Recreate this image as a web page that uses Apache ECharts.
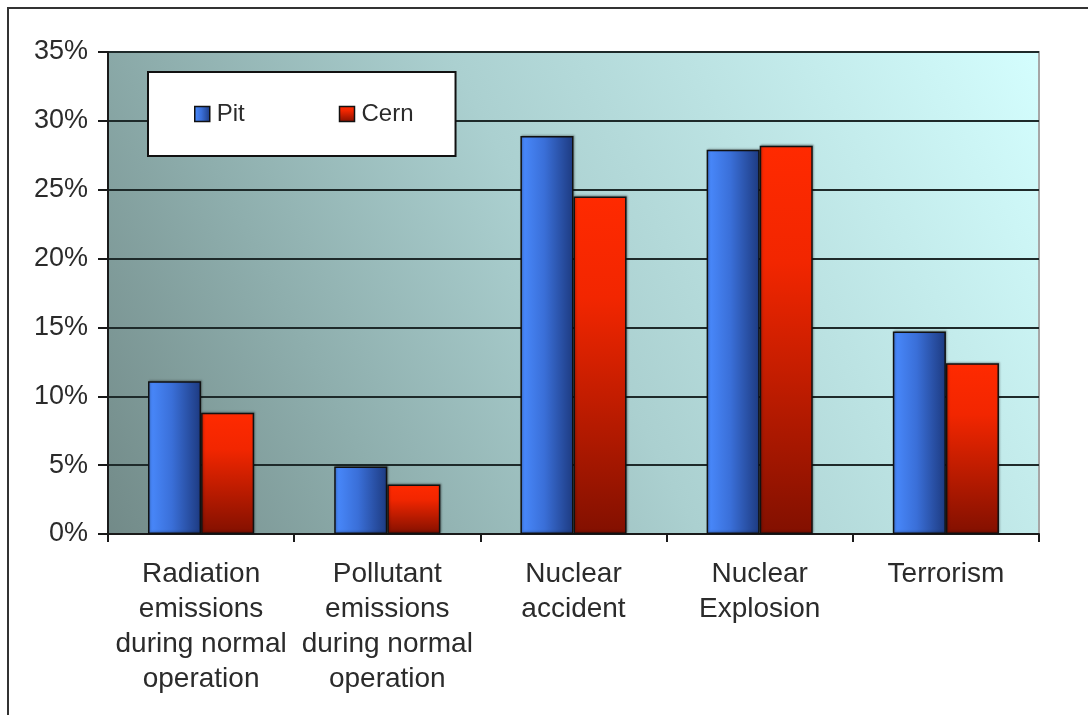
<!DOCTYPE html>
<html>
<head>
<meta charset="utf-8">
<script src="https://cdn.jsdelivr.net/npm/echarts@6/dist/echarts.min.js"></script>
<style>
  html, body { margin: 0; padding: 0; background: #ffffff; }
  #chart { width: 1088px; height: 715px; }
</style>
</head>
<body>
<div id="chart"></div>
<script>
// Perceived risk categories and share of respondents (%)
const categories = [
  'Radiation\nemissions\nduring normal\noperation',
  'Pollutant\nemissions\nduring normal\noperation',
  'Nuclear\naccident',
  'Nuclear\nExplosion',
  'Terrorism'
];
const pitValues  = [11.1, 4.9, 28.9, 27.9, 14.7];
const cernValues = [8.8, 3.6, 24.5, 28.2, 12.4];
const yTicks = { min: 0, max: 35, interval: 5 };

const FONT = "'Liberation Sans', Arial, sans-serif";
const TEXT = '#2b2b2b';

const pitFill = {
  type: 'linear', x: 0, y: 0, x2: 1, y2: 0,
  colorStops: [
    { offset: 0, color: '#4a8bff' },
    { offset: 0.45, color: '#3a6fd8' },
    { offset: 1, color: '#1d3a80' }
  ]
};
const cernFill = {
  type: 'linear', x: 0, y: 0, x2: 0, y2: 1,
  colorStops: [
    { offset: 0, color: '#ff2a00' },
    { offset: 0.3, color: '#f22600' },
    { offset: 1, color: '#821000' }
  ]
};
// plot background: dark slate in the lower left fading to pale cyan upper right
const plotFill = {
  type: 'linear', x: 0, y: 1, x2: 1, y2: 0,
  colorStops: [
    { offset: 0, color: '#728a88' },
    { offset: 0.25, color: '#8eaead' },
    { offset: 0.5, color: '#abd0d0' },
    { offset: 1, color: '#d4fefe' }
  ]
};

const chart = echarts.init(document.getElementById('chart'), null, { renderer: 'canvas' });

chart.setOption({
  animation: false,
  backgroundColor: '#ffffff',
  textStyle: { fontFamily: FONT },
  graphic: [{
    type: 'rect',
    shape: { x: 8, y: 8, width: 1100, height: 740 },
    style: { fill: 'none', stroke: '#333333', lineWidth: 2 },
    z: 100
  }],
  grid: {
    left: 108, top: 52, right: 49, bottom: 181,
    show: true,
    backgroundColor: plotFill,
    borderColor: '#a6a6a6',
    borderWidth: 2
  },
  legend: {
    left: 148, top: 72,
    orient: 'horizontal',
    backgroundColor: '#ffffff',
    borderColor: '#111111',
    borderWidth: 2,
    borderRadius: 0,
    padding: [30, 42, 30, 46],
    itemGap: 94,
    itemWidth: 15,
    itemHeight: 15,
    icon: 'rect',
    textStyle: { fontSize: 24, color: TEXT, fontFamily: FONT, padding: [0, 0, 0, 2] },
    data: [
      { name: 'Pit', itemStyle: { color: pitFill, borderColor: '#111', borderWidth: 1.5 } },
      { name: 'Cern', itemStyle: { color: cernFill, borderColor: '#111', borderWidth: 1.5 } }
    ]
  },
  xAxis: {
    type: 'category',
    data: categories,
    axisLine: { lineStyle: { color: '#1a1a1a', width: 2 } },
    axisTick: { show: true, length: 8, inside: false, lineStyle: { color: '#1a1a1a', width: 2 } },
    axisLabel: {
      interval: 0,
      margin: 23,
      fontSize: 28,
      lineHeight: 35,
      color: TEXT,
      fontFamily: FONT,
      align: 'center'
    }
  },
  yAxis: {
    type: 'value',
    min: yTicks.min, max: yTicks.max, interval: yTicks.interval,
    axisLine: { show: true, lineStyle: { color: '#1a1a1a', width: 2 } },
    axisTick: { show: true, length: 10, lineStyle: { color: '#1a1a1a', width: 2 } },
    axisLabel: {
      formatter: '{value}%',
      fontSize: 27,
      margin: 20,
      color: TEXT,
      fontFamily: FONT
    },
    splitLine: { lineStyle: { color: '#1e2a2a', width: 2 } }
  },
  series: [
    {
      name: 'Pit', type: 'bar', data: pitValues,
      barGap: '0%', barCategoryGap: '43%',
      itemStyle: {
        color: pitFill, borderColor: '#111111', borderWidth: 1.5,
        shadowColor: 'rgba(0,0,0,0.25)', shadowOffsetX: 1, shadowOffsetY: -1, shadowBlur: 2
      }
    },
    {
      name: 'Cern', type: 'bar', data: cernValues,
      barGap: '0%', barCategoryGap: '43%',
      itemStyle: {
        color: cernFill, borderColor: '#111111', borderWidth: 1.5,
        shadowColor: 'rgba(0,0,0,0.25)', shadowOffsetX: 1, shadowOffsetY: -1, shadowBlur: 2
      }
    }
  ]
});
</script>
</body>
</html>
